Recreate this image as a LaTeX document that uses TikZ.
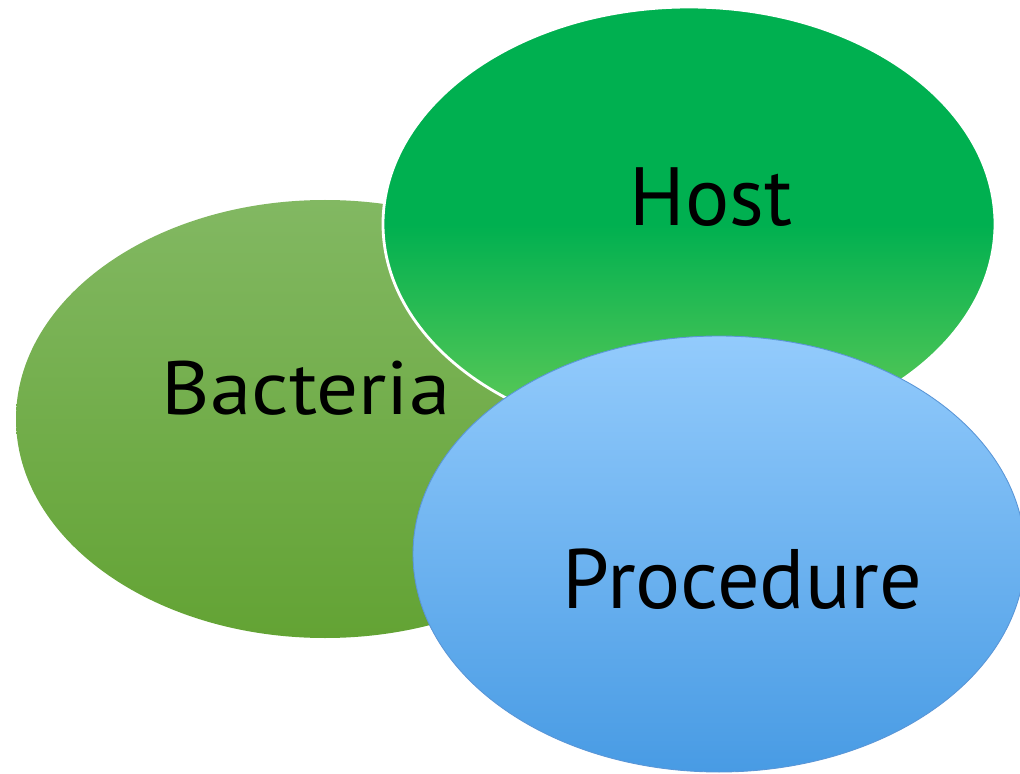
\documentclass[tikz,border=0pt]{standalone}
\usepackage{fontspec}
\setmainfont{PT Sans}
\usepackage{xcolor}
\definecolor{bactTop}{RGB}{130,184,98}
\definecolor{bactBot}{RGB}{99,163,52}
\definecolor{hostTop}{RGB}{0,176,80}
\definecolor{hostBot}{RGB}{104,204,88}
\definecolor{procTop}{RGB}{147,203,252}
\definecolor{procBot}{RGB}{72,155,228}
\definecolor{procEdge}{RGB}{90,150,215}

\begin{document}
\begin{tikzpicture}[lbl/.style={anchor=base, inner sep=0pt, text=black}]
    \useasboundingbox (0,0) rectangle (20.4,15.46);
    % Bacteria
    \path[top color=bactTop, bottom color=bactBot] (6.5,7.08) ellipse (6.18 and 4.38);
    % Host
    \path[top color=hostTop, bottom color=hostBot, middle color=hostTop] (13.78,10.98) ellipse (6.12 and 4.34);
    \draw[white, line width=1.6pt] (13.78,10.98) ellipse (6.12 and 4.34);
    % Procedure
    \draw[procEdge, line width=0.5pt, top color=procTop, bottom color=procBot] (14.38,4.38) ellipse (6.12 and 4.36);
    \node[lbl, font=\fontsize{43}{50}\selectfont, xscale=1.1] (bacteria) at (6.12,7.18) {Bacteria};
    \node[lbl, font=\fontsize{47}{54}\selectfont] (host) at (14.22,10.94) {Host};
    \node[lbl, font=\fontsize{48}{55}\selectfont] (procedure) at (14.85,3.30) {Procedure};
\end{tikzpicture}
\end{document}
